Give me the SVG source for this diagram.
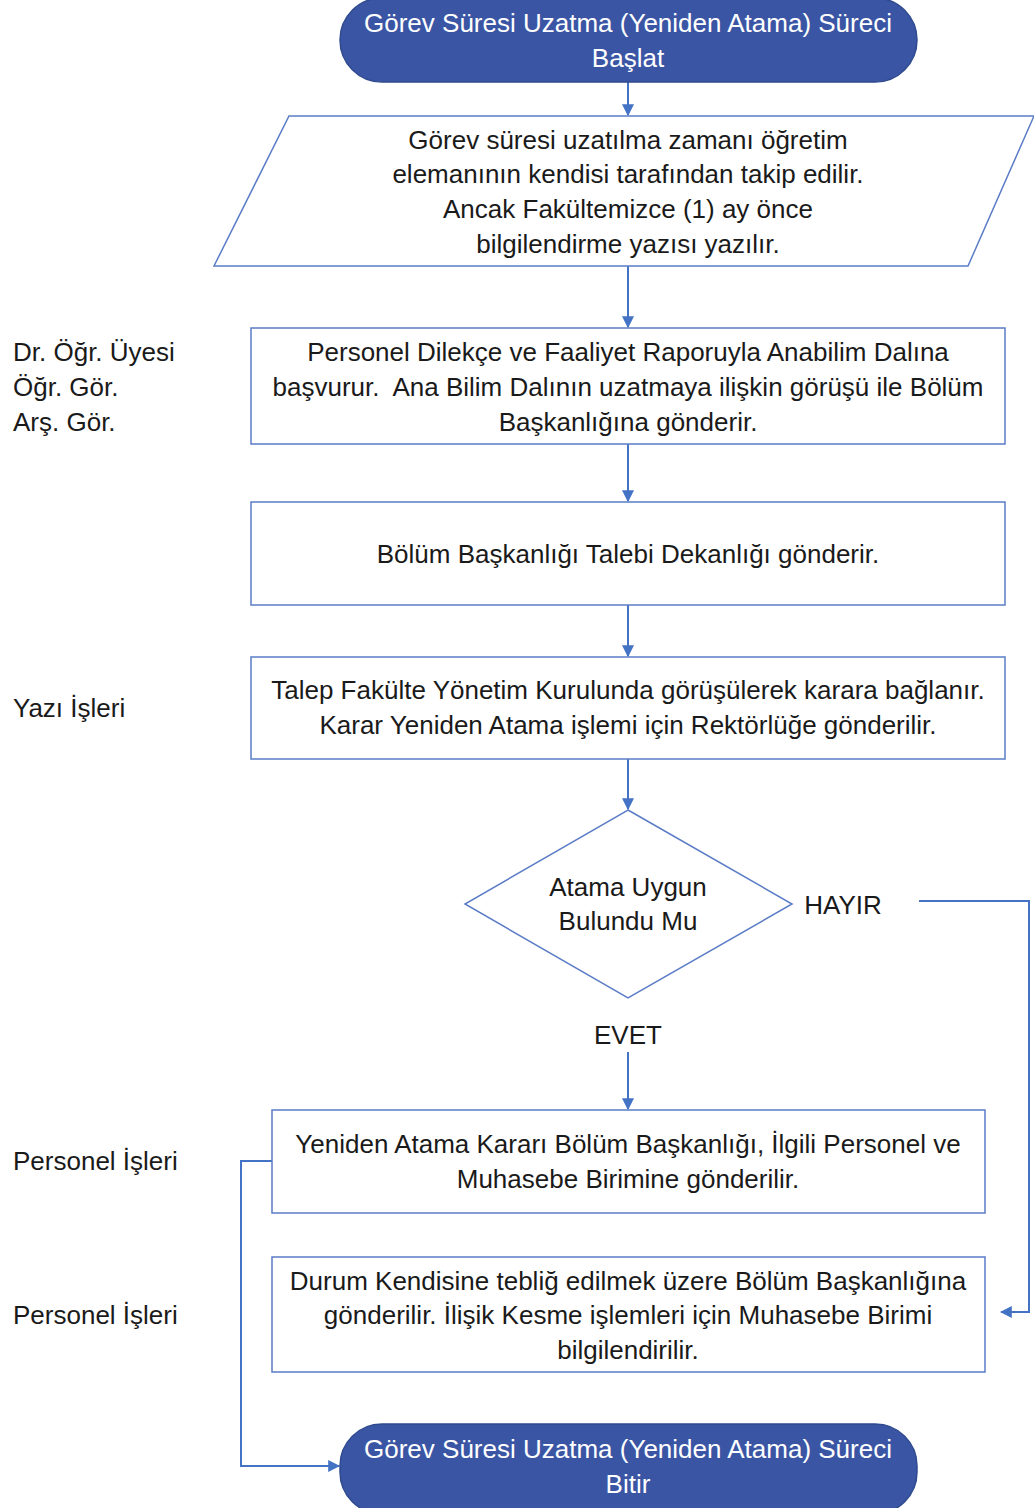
<svg xmlns="http://www.w3.org/2000/svg" width="1034" height="1508" viewBox="0 0 1034 1508">
<defs>
<style>
text{font-family:"Liberation Sans",Arial,sans-serif;font-size:26px;fill:#1a1a1a;dominant-baseline:central}
.c{text-anchor:middle}
.w{fill:#ffffff}
.term{fill:#3B55A5;stroke:#2F4A8F;stroke-width:1.5}
.box{fill:#ffffff;stroke:#5B7CC6;stroke-width:1.5}
.edge{fill:none;stroke:#4472C4;stroke-width:2}
</style>
<marker id="ah" viewBox="0 0 10 10" refX="9" refY="5" markerWidth="6" markerHeight="6" markerUnits="strokeWidth" orient="auto">
<path d="M0,0 L10,5 L0,10 z" fill="#4472C4"/>
</marker>
</defs>
<rect width="1034" height="1508" fill="#ffffff"/>
<g id="connectors">
<line class="edge" x1="628" y1="82" x2="628" y2="115" marker-end="url(#ah)"/>
<line class="edge" x1="628" y1="266" x2="628" y2="327" marker-end="url(#ah)"/>
<line class="edge" x1="628" y1="444" x2="628" y2="501" marker-end="url(#ah)"/>
<line class="edge" x1="628" y1="605" x2="628" y2="656" marker-end="url(#ah)"/>
<line class="edge" x1="628" y1="759" x2="628" y2="809" marker-end="url(#ah)"/>
<line class="edge" x1="628" y1="1052" x2="628" y2="1109" marker-end="url(#ah)"/>
<polyline class="edge" points="919,901 1029,901 1029,1312 1001,1312" marker-end="url(#ah)"/>
<polyline class="edge" points="272,1161 241,1161 241,1466 339,1466" marker-end="url(#ah)"/>
<text class="c" x="843" y="905">HAYIR</text>
<text class="c" x="628" y="1035">EVET</text>
</g>
<g id="start">
<rect class="term" x="340" y="-2" width="577" height="84" rx="42"/>
<text class="c w" x="628" y="23">Görev Süresi Uzatma (Yeniden Atama) Süreci</text>
<text class="c w" x="628" y="58">Başlat</text>
</g>
<g id="input">
<polygon class="box" points="289,116 1034,116 968,266 214,266"/>
<text class="c" x="628" y="140">Görev süresi uzatılma zamanı öğretim</text>
<text class="c" x="628" y="174">elemanının kendisi tarafından takip edilir.</text>
<text class="c" x="628" y="209">Ancak Fakültemizce (1) ay önce</text>
<text class="c" x="628" y="244">bilgilendirme yazısı yazılır.</text>
</g>
<g id="lbl1">
<text x="13" y="352">Dr. Öğr. Üyesi</text>
<text x="13" y="387">Öğr. Gör.</text>
<text x="13" y="422">Arş. Gör.</text>
</g>
<g id="box1">
<rect class="box" x="251" y="328" width="754" height="116"/>
<text class="c" x="628" y="352">Personel Dilekçe ve Faaliyet Raporuyla Anabilim Dalına</text>
<text class="c" x="628" y="387" xml:space="preserve">başvurur.  Ana Bilim Dalının uzatmaya ilişkin görüşü ile Bölüm</text>
<text class="c" x="628" y="422">Başkanlığına gönderir.</text>
</g>
<g id="box2">
<rect class="box" x="251" y="502" width="754" height="103"/>
<text class="c" x="628" y="554">Bölüm Başkanlığı Talebi Dekanlığı gönderir.</text>
</g>
<g id="lbl2">
<text x="13" y="708">Yazı İşleri</text>
</g>
<g id="box3">
<rect class="box" x="251" y="657" width="754" height="102"/>
<text class="c" x="628" y="690">Talep Fakülte Yönetim Kurulunda görüşülerek karara bağlanır.</text>
<text class="c" x="628" y="725">Karar Yeniden Atama işlemi için Rektörlüğe gönderilir.</text>
</g>
<g id="decision">
<polygon class="box" points="628,810 792,904 628,998 465,904"/>
<text class="c" x="628" y="887">Atama Uygun</text>
<text class="c" x="628" y="921">Bulundu Mu</text>
</g>
<g id="lbl3">
<text x="13" y="1161">Personel İşleri</text>
</g>
<g id="box4">
<rect class="box" x="272" y="1110" width="713" height="103"/>
<text class="c" x="628" y="1144">Yeniden Atama Kararı Bölüm Başkanlığı, İlgili Personel ve</text>
<text class="c" x="628" y="1179">Muhasebe Birimine gönderilir.</text>
</g>
<g id="lbl4">
<text x="13" y="1315">Personel İşleri</text>
</g>
<g id="box5">
<rect class="box" x="272" y="1257" width="713" height="115"/>
<text class="c" x="628" y="1281">Durum Kendisine tebliğ edilmek üzere Bölüm Başkanlığına</text>
<text class="c" x="628" y="1315">gönderilir. İlişik Kesme işlemleri için Muhasebe Birimi</text>
<text class="c" x="628" y="1350">bilgilendirilir.</text>
</g>
<g id="end">
<rect class="term" x="340" y="1424" width="577" height="90" rx="42"/>
<text class="c w" x="628" y="1449">Görev Süresi Uzatma (Yeniden Atama) Süreci</text>
<text class="c w" x="628" y="1484">Bitir</text>
</g>
</svg>
